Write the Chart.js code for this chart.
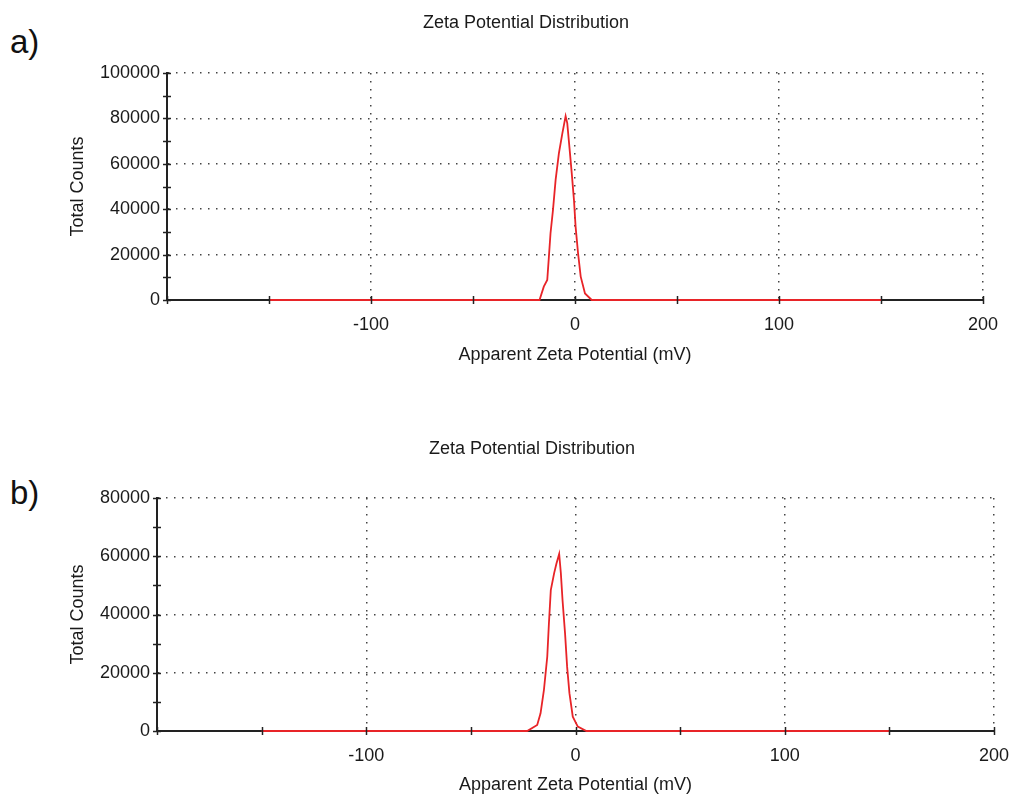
<!DOCTYPE html>
<html>
<head>
<meta charset="utf-8">
<script src="https://cdn.jsdelivr.net/npm/chart.js@4"></script>
<style>
  html, body { margin: 0; padding: 0; background: #fff; }
  body { width: 1011px; height: 798px; position: relative; overflow: hidden; font-family: "Liberation Sans", Arial, sans-serif; }
  .panel { position: absolute; left: 0; width: 1011px; }
  .tag { position: absolute; left: 10px; font-family: "Liberation Sans", Arial, sans-serif; font-size: 33px; line-height: 33px; color: #111; }
</style>
</head>
<body>
<div class="tag" style="top:25px">a)</div>
<div class="tag" style="top:476px">b)</div>
<div class="panel" style="top:0;height:390px"><canvas id="chartA" width="1011" height="390"></canvas></div>
<div class="panel" style="top:400px;height:398px"><canvas id="chartB" width="1011" height="398"></canvas></div>
<script>
// ---- Data ----
const chartTitle = "Zeta Potential Distribution";
const xAxisTitle = "Apparent Zeta Potential (mV)";
const yAxisTitle = "Total Counts";

// panel a)
const potentialA = [-150, -17.4, -15.3, -13.6, -12.8, -12.0, -10.8, -9.5, -7.9, -6.2, -4.6, -3.8, -2.6, -1.6, -0.5, 0.3, 1.5, 2.8, 4.9, 8.2, 150];
const countsA    = [0, 0, 5900, 8800, 19000, 29400, 39600, 52900, 64600, 73400, 81000, 77900, 66000, 55900, 44000, 32200, 20600, 10300, 2900, 0, 0];
const yMaxA = 100000;

// panel b)
const potentialB = [-150, -23.1, -18.3, -16.7, -15.1, -13.5, -12.7, -11.8, -10.2, -9.1, -7.8, -7.0, -6.2, -5.0, -4.0, -2.9, -1.3, 1.1, 5.2, 150];
const countsB    = [0, 0, 2060, 6070, 14000, 25500, 37000, 48400, 54200, 57500, 60800, 54200, 45000, 33600, 22000, 13000, 4900, 1500, 0, 0];
const yMaxB = 80000;

// axes
const xMin = -200, xMax = 200, xMajorStep = 100, xMinorStep = 50;
const yMajorStep = 20000, yMinorStep = 10000;
const hiddenXTickLabels = [-200];

// ---- Styling / layout helpers ----
const FONT = "'Liberation Sans', Arial, sans-serif";
const TEXT = '#1a1a1a';
const RED = 'rgb(232,36,40)';

const axisTicksPlugin = {
  id: 'axisTicks',
  afterDatasetsDraw(chart) {
    const {ctx, chartArea, scales: {x, y}} = chart;
    ctx.save();
    ctx.strokeStyle = '#222';
    ctx.lineWidth = 1.5;
    for (let v = x.min; v <= x.max + 1e-9; v += xMinorStep) {
      const px = Math.round(x.getPixelForValue(v)) + 0.5;
      ctx.beginPath();
      ctx.moveTo(px, chartArea.bottom - 4);
      ctx.lineTo(px, chartArea.bottom + 4);
      ctx.stroke();
    }
    for (let v = y.min; v <= y.max + 1e-9; v += yMinorStep) {
      const py = Math.round(y.getPixelForValue(v)) + 0.5;
      ctx.beginPath();
      ctx.moveTo(chartArea.left - 4, py);
      ctx.lineTo(chartArea.left + 4, py);
      ctx.stroke();
    }
    ctx.restore();
  }
};

function makeChart(id, xs, ys, yMax, L) {
  const pts = xs.map((v, i) => ({x: v, y: ys[i]}));
  return new Chart(document.getElementById(id), {
    type: 'line',
    data: {
      datasets: [{
        data: pts,
        borderColor: RED,
        borderWidth: 1.8,
        pointRadius: 0,
        tension: 0,
        fill: false,
        clip: false
      }]
    },
    options: {
      responsive: false,
      animation: false,
      devicePixelRatio: 1,
      layout: { padding: { left: L.padLeft, right: L.padRight, top: 0, bottom: 0 } },
      plugins: {
        legend: { display: false },
        tooltip: { enabled: false },
        title: {
          display: true,
          text: chartTitle,
          color: TEXT,
          font: { family: FONT, size: 18, weight: 'normal', lineHeight: 1.2 },
          padding: { top: L.titleTop, bottom: L.titleBottom }
        }
      },
      scales: {
        x: {
          type: 'linear',
          min: xMin, max: xMax,
          afterFit(s) { s.height = L.xHeight; },
          ticks: {
            stepSize: xMajorStep,
            color: TEXT,
            padding: 0,
            maxRotation: 0,
            font: { family: FONT, size: 18 },
            callback: (v) => hiddenXTickLabels.includes(v) ? null : String(v)
          },
          grid: { color: '#444', lineWidth: 1.5, drawTicks: true, tickLength: L.xTickPad, tickColor: 'rgba(0,0,0,0)' },
          border: { display: true, color: '#222', width: 2, dash: [1.5, 6.5] },
          title: {
            display: true, text: xAxisTitle, color: TEXT,
            font: { family: FONT, size: 18, lineHeight: 1.2 },
            padding: { top: 0, bottom: L.xTitlePad }
          }
        },
        y: {
          type: 'linear',
          min: 0, max: yMax,
          afterFit(s) { s.width = L.yWidth; },
          ticks: {
            stepSize: yMajorStep,
            color: TEXT,
            padding: 0,
            font: { family: FONT, size: 18 },
            callback: (v) => String(v)
          },
          grid: { color: '#444', lineWidth: 1.5, drawTicks: true, tickLength: L.yTickPad, tickColor: 'rgba(0,0,0,0)' },
          border: { display: true, color: '#222', width: 2, dash: [1.5, 6.5] },
          title: {
            display: true, text: yAxisTitle, color: TEXT,
            font: { family: FONT, size: 18, lineHeight: 1.2 },
            padding: { top: L.yTitlePad, bottom: 0 }
          }
        }
      }
    },
    plugins: [axisTicksPlugin]
  });
}

makeChart('chartA', potentialA, countsA, yMaxA, {
  padLeft: 69, padRight: 28, titleTop: 12, titleBottom: 39.4,
  yWidth: 98, yTickPad: 7, yTitlePad: -1.8,
  xHeight: 90, xTickPad: 14, xTitlePad: 24
});
makeChart('chartB', potentialB, countsB, yMaxB, {
  padLeft: 70, padRight: 17, titleTop: 38.7, titleBottom: 37.7,
  yWidth: 87, yTickPad: 7, yTitlePad: -2.8,
  xHeight: 67, xTickPad: 14, xTitlePad: 2
});
</script>
</body>
</html>
